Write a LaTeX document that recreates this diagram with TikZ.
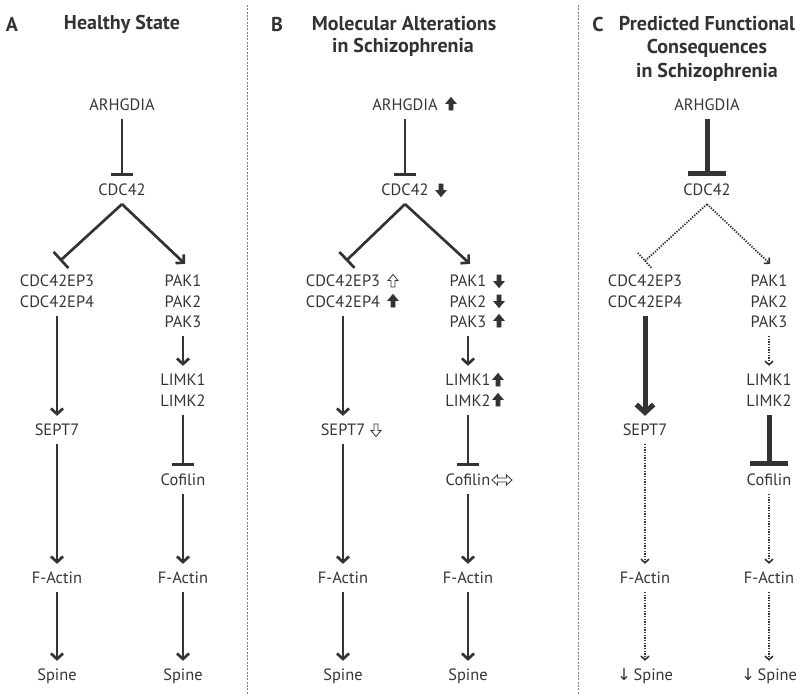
\documentclass[tikz,border=0pt]{standalone}
\usepackage{fontspec}
\setmainfont{PT Sans}
\newfontfamily\symfont{DejaVu Sans}
\usetikzlibrary{arrows.meta,calc}
\definecolor{txt}{HTML}{363636}
\definecolor{ln}{HTML}{333333}
\definecolor{divc}{HTML}{808080}
\newcommand\lblfont{\fontsize{12.3}{14}\selectfont}
\newcommand\ttlfont{\fontsize{15}{17}\selectfont\bfseries}
% block arrow: #1 position, #2 angle, #3 style
\newcommand\blkarrow[3]{\filldraw[line width=0.6pt, draw=ln, #3, shift={#1}, rotate=#2]
  (0,-6.5)--(5,-0.5)--(2,-0.5)--(2,6)--(-2,6)--(-2,-0.5)--(-5,-0.5)--cycle;}
\newcommand\lrarrow[1]{\filldraw[line width=0.6pt, draw=ln, fill=white, shift={#1}]
  (-10,0)--(-4.5,-5)--(-4.5,-2)--(4.5,-2)--(4.5,-5)--(10,0)--(4.5,5)--(4.5,2)--(-4.5,2)--(-4.5,5)--cycle;}
\tikzset{
  lbl/.style={font=\lblfont, text=txt, inner xsep=0pt, inner ysep=6pt, text height=8.8pt, text depth=0pt},
  ttl/.style={font=\ttlfont, text=ln, inner sep=0pt},
  act/.style={draw=ln, line width=2pt, -{Straight Barb[length=4.2pt,width=9pt]}},
  inh/.style={draw=ln, line width=2pt, -{Bar[width=16.5pt]}},
  dotln/.style={draw=ln, line width=1.3pt, dash pattern=on 1pt off 1pt},
  dact/.style={dotln, -{Straight Barb[length=2.8pt,width=6pt,line width=1.2pt]}},
  tact/.style={draw=ln, line width=3.75pt, -{Straight Barb[length=6pt,width=13pt]}},
  tinh/.style={draw=ln, line width=3.75pt, -{Bar[width=28.5pt]}},
  divider/.style={draw=divc, line width=0.7pt, dash pattern=on 1.5pt off 1pt},
  upfill/.style={fill=ln},
  hollow/.style={fill=white},
}
\begin{document}
\begin{tikzpicture}[x=0.75pt,y=-0.75pt]
\path[use as bounding box, fill=white] (0,0) rectangle (800,700);
% dividers
\coordinate (d1t) at (247,5); \coordinate (d1b) at (247,695);
\coordinate (d2t) at (578,5); \coordinate (d2b) at (578,695);
\draw[divider] (d1t) -- (d1b);
\draw[divider] (d2t) -- (d2b);

% ---------------- Panel A ----------------
\node[ttl] (tA) at (12,24) {A};
\node[ttl] (tAh) at (122,24) {Healthy State};
\node[lbl] (aA) at (122,105) {ARHGDIA};
\node[lbl] (aC) at (122,190) {CDC42};
\node[lbl] (aE3) at (57,281) {CDC42EP3};
\node[lbl] (aE4) at (57,302) {CDC42EP4};
\node[lbl] (aP1) at (183,281) {PAK1};
\node[lbl] (aP2) at (183,302) {PAK2};
\node[lbl] (aP3) at (183,322) {PAK3};
\node[lbl] (aL1) at (183,380) {LIMK1};
\node[lbl] (aL2) at (183,401) {LIMK2};
\node[lbl] (aS) at (57,430) {SEPT7};
\node[lbl] (aCo) at (183,480) {Cofilin};
\node[lbl] (aF1) at (57,578) {F-Actin};
\node[lbl] (aF2) at (183,578) {F-Actin};
\node[lbl] (aSp1) at (57,675) {Spine};
\node[lbl] (aSp2) at (183,675) {Spine};
\draw[inh] (aA) -- (aC);
\draw[inh] (aC.south) -- ($(aE3.north)+(3,-6)$);
\draw[act] (aC.south) -- ($(aP1.north)+(2,-3)$);
\draw[act] (aE4) -- (aS);
\draw[act] (aP3) -- (aL1);
\draw[inh] (aL2) -- (aCo);
\draw[act] (aS) -- (aF1);
\draw[act] (aF1) -- (aSp1);
\draw[act] (aCo) -- (aF2);
\draw[act] (aF2) -- (aSp2);

% ---------------- Panel B ----------------
\node[ttl] (tB) at (277,24) {B};
\node[ttl] (tBh1) at (404,24) {Molecular Alterations};
\node[ttl] (tBh2) at (403,47) {in Schizophrenia};
\node[lbl] (bA) at (405,105) {ARHGDIA};
\node[lbl] (bC) at (405,190) {CDC42};
\node[lbl] (bE3) at (343,281) {CDC42EP3};
\node[lbl] (bE4) at (343,302) {CDC42EP4};
\node[lbl] (bP1) at (468,281) {PAK1};
\node[lbl] (bP2) at (468,302) {PAK2};
\node[lbl] (bP3) at (468,322) {PAK3};
\node[lbl] (bL1) at (468,380) {LIMK1};
\node[lbl] (bL2) at (468,401) {LIMK2};
\node[lbl] (bS) at (343,430) {SEPT7};
\node[lbl] (bCo) at (468,480) {Cofilin};
\node[lbl] (bF1) at (343,578) {F-Actin};
\node[lbl] (bF2) at (468,578) {F-Actin};
\node[lbl] (bSp1) at (343,675) {Spine};
\node[lbl] (bSp2) at (468,675) {Spine};
\draw[inh] (bA) -- (bC);
\draw[inh] (bC.south) -- ($(bE3.north)+(3,-6)$);
\draw[act] (bC.south) -- ($(bP1.north)+(2,-3)$);
\draw[act] (bE4) -- (bS);
\draw[act] (bP3) -- (bL1);
\draw[inh] (bL2) -- (bCo);
\draw[act] (bS) -- (bF1);
\draw[act] (bF1) -- (bSp1);
\draw[act] (bCo) -- (bF2);
\draw[act] (bF2) -- (bSp2);
% change markers
\blkarrow{(451,104)}{0}{upfill}
\blkarrow{(441,190)}{180}{upfill}
\blkarrow{(393,281)}{0}{hollow}
\blkarrow{(393,301)}{0}{upfill}
\blkarrow{(499,281)}{180}{upfill}
\blkarrow{(499,301)}{180}{upfill}
\blkarrow{(499,321)}{0}{upfill}
\blkarrow{(498,380)}{0}{upfill}
\blkarrow{(498,400)}{0}{upfill}
\blkarrow{(376,430)}{180}{hollow}
\lrarrow{(502,480)}

% ---------------- Panel C ----------------
\node[ttl] (tC) at (598,24) {C};
\node[ttl] (tCh1) at (707,24) {Predicted Functional};
\node[ttl] (tCh2) at (707,48) {Consequences};
\node[ttl] (tCh3) at (707,72) {in Schizophrenia};
\node[lbl] (cA) at (707,105) {ARHGDIA};
\node[lbl] (cC) at (707,190) {CDC42};
\node[lbl] (cE3) at (645,281) {CDC42EP3};
\node[lbl] (cE4) at (645,302) {CDC42EP4};
\node[lbl] (cP1) at (769,281) {PAK1};
\node[lbl] (cP2) at (769,302) {PAK2};
\node[lbl] (cP3) at (769,322) {PAK3};
\node[lbl] (cL1) at (769,380) {LIMK1};
\node[lbl] (cL2) at (769,401) {LIMK2};
\node[lbl] (cS) at (645,430) {SEPT7};
\node[lbl] (cCo) at (769,480) {Cofilin};
\node[lbl] (cF1) at (645,578) {F-Actin};
\node[lbl] (cF2) at (769,578) {F-Actin};
\node[lbl] (cSp1) at (645,675) {{\symfont\fontsize{12.5}{14}\selectfont ↓}\,Spine};
\node[lbl] (cSp2) at (769,675) {{\symfont\fontsize{12.5}{14}\selectfont ↓}\,Spine};
\draw[tinh] (cA) -- (cC);
\coordinate (cLe) at ($(cE3.north)+(0,-6)$);
\draw[dotln] (cC.south) -- (cLe);
\draw[dotln] ($(cLe)!8pt!90:(cC.south)$) -- ($(cLe)!-8pt!90:(cC.south)$);
\draw[dact] (cC.south) -- ($(cP1.north)+(1,-3)$);
\draw[tact] (cE4) -- (cS);
\draw[dact] (cP3) -- (cL1);
\draw[tinh] (cL2) -- (cCo);
\draw[dact] (cS) -- (cF1);
\draw[dact] (cF1) -- (cSp1);
\draw[dact] (cCo) -- (cF2);
\draw[dact] (cF2) -- (cSp2);
\end{tikzpicture}
\end{document}
